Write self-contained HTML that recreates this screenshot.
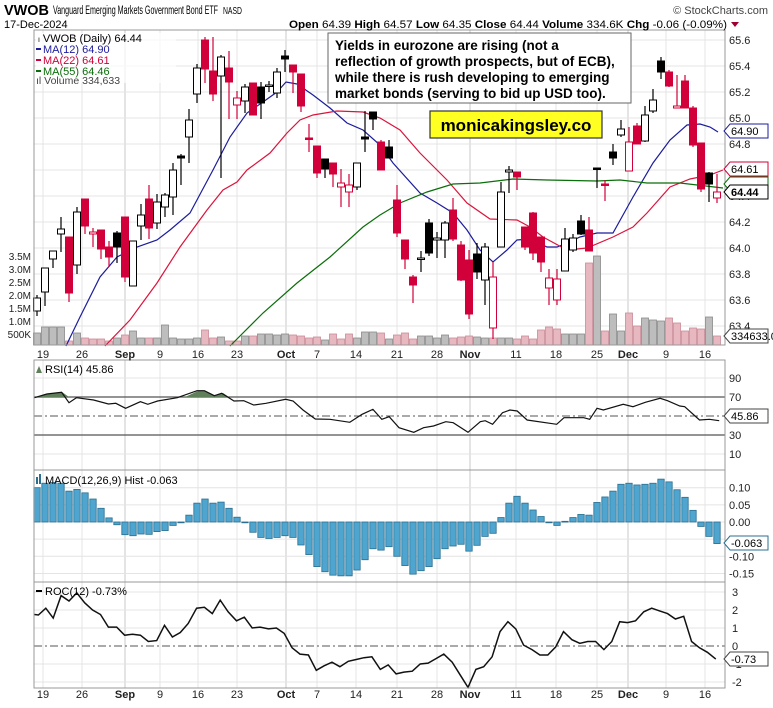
<!DOCTYPE html>
<html><head><meta charset="utf-8">
<style>
html,body{margin:0;padding:0;background:#fff;}
svg{display:block;font-family:"Liberation Sans",sans-serif;}
</style></head>
<body>
<svg id="c" width="773" height="708" xmlns="http://www.w3.org/2000/svg"></svg>
<script>
const S=document.getElementById('c');let h='';
const RED='#d1003a';
function L(x1,y1,x2,y2,c,w,extra){h+=`<line x1="${x1}" y1="${y1}" x2="${x2}" y2="${y2}" stroke="${c}" stroke-width="${w||1}" ${extra||''}/>`;}
function T(x,y,t,o){h+=`<text x="${x}" y="${y}" ${o||''}>${t}</text>`;}
const X0=34,X1=725;
const panels=[[30,345],[360,470],[470,582],[582,688]];
const dates=[[43,'19'],[82,'26'],[125,'Sep',1],[160,'9'],[198,'16'],[237,'23'],[286,'Oct',1],[317,'7'],[356,'14'],[397,'21'],[437,'28'],[470,'Nov',1],[516,'11'],[556,'18'],[597,'25'],[628,'Dec',1],[666,'9'],[705,'16']];
panels.forEach(p=>{dates.forEach(d=>L(d[0],p[0],d[0],p[1],d[2]?'#c8c8c8':'#e4e4e4',1));});
for(let v=63.4;v<=65.61;v+=0.2){const y=40+(65.6-v)*130;L(X0,y,X1,y,'#e4e4e4',1);T(729,y+4,v.toFixed(1),'font-size="11" fill="#222"');}
[90,70,50,30,10].forEach(v=>{const y=463.5-0.95*v;if(v==90||v==10)L(X0,y,X1,y,'#e4e4e4',1);T(729,y+4,v,'font-size="11" fill="#222"');});
[0.10,0.05,0,-0.05,-0.10,-0.15].forEach(v=>{const y=522-343*v;L(X0,y,X1,y,'#e4e4e4',1);T(729,y+4,v.toFixed(2),'font-size="11" fill="#222"');});
[3,2,1,0,-1,-2].forEach(v=>{const y=646-18*v;if(v!=0)L(X0,y,X1,y,'#e4e4e4',1);T(732,y+4,v,'font-size="11" fill="#222"');});
const vol=[12,18,18,18,4,12,7,6,6,4,7,10,14,7,7,7,20,7,6,6,7,15,7,8,4,4,9,9,11,11,10,11,10,9,7,8,5,11,6,11,7,13,13,12,6,10,12,6,9,9,7,10,7,8,9,8,7,7,7,7,6,9,6,15,18,16,11,11,11,82,89,14,31,14,32,19,27,25,24,27,22,14,17,16,28,9];
const C=[['hb',298,311,295,316],['hb',268,292,268,306],['hb',251,259,251,268],['hb',229,234,217,252],['fr',237,293,237,302],['hb',212,265,207,274],['fr',199,226,199,234],['hr',232,234,228,247],['fr',230,249,230,259],['fr',247,257,241,267],['fb',233,247,231,263],['fr',217,277,217,282],['hb',241,286,241,286],['hb',215,226,204,240],['fr',199,228,185,239],['hb',202,223,194,229],['hb',195,207,193,217],['hb',170,197,163,215],['fb',156,158,154,185],['hb',120,137,109,163],['hb',68,94,64,103],['fr',40,69,37,83],['fr',71,94,37,101],['hb',57,76,55,178],['fr',68,82,51,119],['hr',98,105,91,119],['hb',87,101,84,113],['fr',83,115,83,115],['fb',87,103,82,119],['hb',85,86,81,92],['hb',72,93,68,98],['fb',56,59,50,72],['fr',65,72,65,93],['fr',74,106,74,112],['fr',138,139,124,152],['fr',146,173,146,178],['fb',159,169,159,178],['fr',163,174,163,187],['hr',183,187,169,207],['hr',185,192,174,207],['hb',163,187,163,190],['fb',137,139,111,152],['fb',112,119,112,130],['fr',142,170,140,170],['fb',147,158,140,158],['fr',200,233,185,237],['fr',240,259,240,269],['fr',277,285,275,303],['hb',258,259,251,272],['fb',223,253,219,256],['hb',238,240,232,258],['hb',223,240,221,258],['fr',210,239,198,241],['fr',245,280,241,281],['fr',260,314,250,319],['fb',254,272,243,279],['hb',247,280,243,305],['hr',277,328,262,339],['hb',192,247,182,247],['hb',170,172,166,193],['fr',172,177,172,190],['fr',227,247,227,250],['fr',213,253,212,260],['fr',237,262,237,272],['hr',278,288,269,305],['hr',279,300,269,305],['hb',239,271,228,271],['hb',238,250,234,252],['fb',221,234,215,235],['fr',230,251,217,251],['fb',168,169,168,188],['fr',184,185,180,201],['fb',152,158,144,165],['hb',129,135,120,137],['hr',142,171,127,171],['fr',126,144,123,144],['hb',115,141,106,142],['hb',100,111,89,113],['fb',61,72,57,79],['fr',72,86,70,87],['hr',106,108,75,108],['fr',81,108,75,108],['fr',108,145,106,147],['fr',143,189,143,192],['fb',173,184,172,202],['hr',192,198,174,203]];
C.forEach((c,i)=>{const x=37+8*i,v=vol[i]||8,red=c[0][1]=='r';
h+=`<rect x="${x-3.5}" y="${345-v}" width="7" height="${v}" fill="${red?'#e8b8c0':'#bdbdbd'}" stroke="${red?'#c98a96':'#8a8a8a'}" stroke-width="0.8"/>`;});
function P(pts,c,w){h+=`<polyline fill="none" stroke="${c}" stroke-width="${w||1.2}" points="${pts}"/>`;}
P('66,346 80,317 100,277 117,257 137,247 157,240 170,230 190,213 213,170 230,137 247,113 263,102 277,92 286,82 297,84 313,95 330,108 347,123 363,130 380,145 393,163 420,193 437,203 453,213 467,230 480,250 493,262 507,250 517,240 530,239 547,247 557,247 567,243 580,237 597,233 613,233 633,197 653,163 670,140 687,125 700,124 710,127 718,132','#1c1c9c');
P('105,346 130,320 157,283 180,247 207,210 223,190 237,182 247,170 270,153 287,133 300,120 313,115 337,111 363,112 380,118 400,130 420,153 447,180 467,203 490,219 517,220 530,227 543,237 567,250 587,248 613,237 633,227 647,213 670,187 690,179 710,175 723,170','#dc143c');
P('230,346 263,313 297,283 330,257 363,227 380,215 400,203 427,192 453,184 480,183 513,179 547,180 597,181 620,180 647,183 680,183 723,188','#0a6e0a');
C.forEach((c,i)=>{const x=37+8*i,red=c[0][1]=='r',col=red?RED:'#000',fill=c[0][0]=='f'?col:'#fff';
L(x,c[3],x,c[4],col,1.2);
const bh=Math.max(c[2]-c[1],1.5);
h+=`<rect x="${x-3.5}" y="${c[1]}" width="7" height="${bh}" fill="${fill}" stroke="${col}" stroke-width="1"/>`;});
L(X0,397,X1,397,'#555',1.2);L(X0,435,X1,435,'#555',1.2);L(X0,416,X1,416,'#555',1,'stroke-dasharray="8,3,2,3"');
h+=`<polygon points="34,397 35,397 47,394 62,392 69,397" fill="#5e7f5a" stroke="none"/>`;
h+=`<polygon points="185,397 198,391 205,391 215,396 223,393 229,397" fill="#5e7f5a" stroke="none"/>`;
const rx=[70,95,125,140,155,190,220,235,255,285,300,320,360,400,415,435,450,475,495,515,540,580,595,615,640,670,710,735,757,775,790,810,840,860,880,905,920,950,975,985,1000,1020,1035,1050,1070,1130,1145,1185,1197,1212,1225,1265,1285,1310,1340,1355,1380,1390,1420,1440,1460];
const ry=[203,192,187,218,203,210,222,220,235,215,223,213,203,182,182,197,190,213,212,225,220,208,213,240,267,268,277,253,238,268,260,293,307,293,288,275,278,307,275,272,283,248,240,243,270,283,263,263,268,235,240,223,230,217,205,212,228,230,270,268,272];
P(rx.map((x,i)=>(x/2.03).toFixed(1)+','+(ry[i]/3+330).toFixed(1)).join(' '),'#111',1.2);
const m=[0.10,0.113,0.115,0.113,0.09,0.095,0.085,0.067,0.04,0.012,-0.008,-0.037,-0.04,-0.035,-0.036,-0.028,-0.025,-0.01,-0.002,0.02,0.055,0.067,0.055,0.058,0.04,0.014,-0.002,-0.03,-0.045,-0.048,-0.045,-0.04,-0.045,-0.067,-0.095,-0.13,-0.145,-0.155,-0.157,-0.157,-0.14,-0.11,-0.078,-0.082,-0.072,-0.1,-0.127,-0.152,-0.142,-0.13,-0.107,-0.078,-0.07,-0.065,-0.085,-0.068,-0.042,-0.033,0.013,0.055,0.075,0.055,0.035,0.016,-0.001,-0.01,0.002,0.013,0.022,0.02,0.057,0.073,0.09,0.11,0.113,0.108,0.11,0.113,0.125,0.117,0.094,0.072,0.034,-0.013,-0.042,-0.063];
m.forEach((v,i)=>{const x=37+8*i,y=522-343*v,t=Math.min(y,522),hh=Math.max(Math.abs(y-522),0.8);
h+=`<rect x="${x-3.2}" y="${t}" width="6.4" height="${hh}" fill="#4ea5cf" stroke="#2b6f90" stroke-width="0.8"/>`;});
L(X0,646,X1,646,'#555',1,'stroke-dasharray="8,3,2,3"');
const ox=[70,78,93,108,124,140,156,172,188,204,220,237,253,269,285,301,318,334,350,366,382,399,415,431,447,463,480,496,512,528,545,561,577,593,609,626,642,658,674,690,707,723,739,755,772,788,804,820,837,853,869,885,901,918,934,950,966,982,999,1015,1031,1047,1063,1080,1096,1112,1128,1144,1161,1177,1193,1209,1226,1242,1258,1274,1290,1307,1323,1339,1355,1371,1388,1404,1420,1436,1453];
const ov=[1.75,1.72,2.1,1.55,2.8,2.5,2.95,2.4,2.0,1.75,1.05,1.05,0.6,0.65,0.6,0.25,0.3,1.15,0.5,0.75,1.25,2.1,2.15,1.8,2.55,1.9,1.4,1.6,1.0,1.05,0.95,1.0,0.7,-0.1,-0.45,-0.5,-1.35,-1.1,-0.9,-1.15,-0.85,-0.75,-0.65,-0.6,-1.3,-1.05,-1.55,-1.45,-1.4,-1.0,-0.95,-0.7,-0.45,-0.9,-1.6,-2.3,-1.3,-1.15,-0.6,0.8,1.35,0.95,0.05,-0.2,-0.5,-0.5,-0.05,0.8,0.35,0.15,0.25,0.25,-0.2,0.25,1.35,1.3,1.4,1.9,2.1,1.95,1.8,1.5,1.65,0.25,-0.1,-0.35,-0.73];
P(ox.map((x,i)=>(x/2.03).toFixed(1)+','+(646-18*ov[i]).toFixed(1)).join(' '),'#111',1.5);
panels.forEach(p=>{h+=`<rect x="${X0}" y="${p[0]}" width="${X1-X0}" height="${p[1]-p[0]}" fill="none" stroke="#999" stroke-width="1"/>`;});
[[358],[698]].forEach(r=>dates.forEach(d=>T(d[0],r[0],d[1],`font-size="11" text-anchor="middle" fill="#222" ${d[2]?'font-weight="bold"':''}`)));
['3.5M','3.0M','2.5M','2.0M','1.5M','1.0M','500K'].forEach((t,i)=>T(31,260+13*i,t,'font-size="10" text-anchor="end" fill="#222"'));
T(4,15,'VWOB','font-size="15" font-weight="bold" fill="#000" textLength="45" lengthAdjust="spacingAndGlyphs"');
T(53,14,'Vanguard Emerging Markets Government Bond ETF','font-size="11.5" fill="#000" textLength="165" lengthAdjust="spacingAndGlyphs"');
T(223,14,'NASD','font-size="10" fill="#000" textLength="19" lengthAdjust="spacingAndGlyphs"');
T(768,14,'© StockCharts.com','font-size="11" text-anchor="end" fill="#444"');
T(4,28,'17-Dec-2024','font-size="11" fill="#000"');
h+=`<text x="289" y="28" font-size="11" fill="#000" textLength="438" lengthAdjust="spacingAndGlyphs"><tspan font-weight="bold">Open</tspan> 64.39 <tspan font-weight="bold">High</tspan> 64.57 <tspan font-weight="bold">Low</tspan> 64.35 <tspan font-weight="bold">Close</tspan> 64.44 <tspan font-weight="bold">Volume</tspan> 334.6K <tspan font-weight="bold">Chg</tspan> -0.06 (-0.09%)</text>`;
h+=`<polygon points="731,22 739,22 735,27" fill="#a00030"/>`;
h+=`<rect x="36" y="33" width="140" height="50" fill="#fff" opacity="0.7"/>`;
T(38,42,'ₗ VWOB (Daily) 64.44','font-size="11" fill="#000"');
L(36,49,41,49,'#1c1c9c',2);T(43,53,'MA(12) 64.90','font-size="11" fill="#1c1c9c"');
L(36,60,41,60,RED,2);T(43,64,'MA(22) 64.61','font-size="11" fill="'+RED+'"');
L(36,71,41,71,'#0a6e0a',2);T(43,75,'MA(55) 64.46','font-size="11" fill="#0a6e0a"');
T(36,84,'ıl Volume 334,633','font-size="10.5" fill="#444"');
T(45,373,'RSI(14) 45.86','font-size="11" fill="#000"');
h+=`<polygon points="36,373 39,366 42,373" fill="#5e7f5a"/>`;
T(45,484,'MACD(12,26,9) Hist -0.063','font-size="11" fill="#000"');
h+=`<rect x="36" y="477" width="2" height="7" fill="#2b6f90"/><rect x="39" y="474" width="2" height="10" fill="#2b6f90"/>`;
L(36,591,42,591,'#000',2);T(45,595,'ROC(12) -0.73%','font-size="11" fill="#000"');
h+=`<rect x="328" y="33" width="303" height="70" fill="#fff" stroke="#666" stroke-width="1"/>`;
['Yields in eurozone are rising (not a','reflection of growth prospects, but of ECB),','while there is rush developing to emerging','market bonds (serving to bid up USD too).'].forEach((t,i)=>T(335,50+16*i,t,'font-size="13.5" font-weight="bold" fill="#000"'));
h+=`<rect x="430" y="111" width="172" height="27" fill="#ffff22" stroke="#333" stroke-width="1.2"/>`;
T(516,131,'monicakingsley.co','font-size="17" font-weight="bold" text-anchor="middle" fill="#000"');
function tag(y,t,c,bold,bg){h+=`<polygon points="724,${y} 730,${y-7} 768,${y-7} 768,${y+7} 730,${y+7}" fill="${bg||'#fff'}" stroke="${c}" stroke-width="1"/>`;T(731,y+4,t,`font-size="11" fill="#000" ${bold?'font-weight="bold"':''}`);}
tag(131,'64.90','#1c1c9c');tag(169,'64.61',RED);tag(184,'','#0a6e0a');tag(192,'64.44','#000',1);tag(336,'334633.0','#444');
tag(416,'45.86','#444');tag(543,'-0.063','#2b6f90');tag(659,'-0.73','#444');
S.innerHTML=h;
</script>
</body></html>
